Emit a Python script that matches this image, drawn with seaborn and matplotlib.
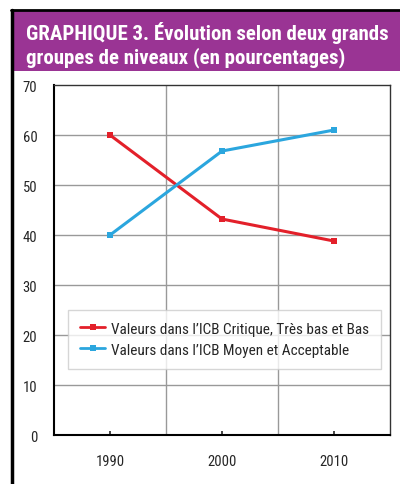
import matplotlib
matplotlib.use("Agg")
import matplotlib.pyplot as plt
import seaborn as sns
import pandas as pd
from matplotlib.patches import Rectangle
from matplotlib.lines import Line2D

years = ["1990", "2000", "2010"]
low_levels = [60, 43.2, 38.8]
mid_levels = [40, 56.8, 61]
series_names = [
    "Valeurs dans l\u2019ICB Critique, Très bas et Bas",
    "Valeurs dans l\u2019ICB Moyen et Acceptable",
]
title_lines = [
    "GRAPHIQUE 3. Évolution selon deux grands",
    "groupes de niveaux (en pourcentages)",
]

sns.set_style("white")
plt.rcParams["font.family"] = ["Roboto Condensed", "Archivo Narrow", "PT Sans Narrow", "DejaVu Sans"]

df = pd.DataFrame({
    "year": years * 2,
    "value": low_levels + mid_levels,
    "serie": [series_names[0]] * 3 + [series_names[1]] * 3,
})

fig = plt.figure(figsize=(4, 4.85), dpi=100)
ax = fig.add_axes([0.135, 0.101, 0.84, 0.7216])

palette = {series_names[0]: "#e3202a", series_names[1]: "#2ba6de"}
sns.lineplot(data=df, x="year", y="value", hue="serie", palette=palette,
             marker="s", markersize=5, markeredgewidth=0, linewidth=2.2,
             ax=ax, legend=False, sort=False)

ax.set_xlim(-0.5, 2.5)
ax.set_ylim(0, 70)
ax.set_yticks(range(0, 71, 10))
ax.set_xlabel("")
ax.set_ylabel("")
for v in [0.5, 1.5]:
    ax.axvline(v, color="#999999", lw=1, zorder=0)
for v in range(10, 70, 10):
    ax.axhline(v, color="#999999", lw=1, zorder=0)
for s in ["top", "right"]:
    ax.spines[s].set_color("#333333")
    ax.spines[s].set_linewidth(1)
for s in ["left", "bottom"]:
    ax.spines[s].set_color("black")
    ax.spines[s].set_linewidth(1.5)
ax.tick_params(axis="x", direction="in", length=3, width=1.2, pad=14,
               labelsize=10.5, bottom=True)
ax.tick_params(axis="y", length=0, pad=12, labelsize=10.5)

handles = [Line2D([], [], color=palette[n], lw=2, marker="s", markersize=4,
                  markeredgewidth=0) for n in series_names]
leg = ax.legend(handles, series_names, loc="lower left",
                bbox_to_anchor=(0.042, 0.189), borderaxespad=0, fontsize=11,
                frameon=True, fancybox=False, edgecolor="#cccccc",
                handlelength=1.6, handletextpad=0.4, borderpad=0.8,
                labelspacing=0.45)
leg.get_frame().set_linewidth(1)

# header band and frame lines
fig.patches.append(Rectangle((0.03, 0.8515), 0.97, 0.1237, transform=fig.transFigure,
                             facecolor="#9a3494", edgecolor="none", zorder=0))
fig.add_artist(Line2D([0.028, 1.0], [0.978, 0.978], transform=fig.transFigure,
                      color="black", lw=2))
fig.add_artist(Line2D([0.029, 0.029], [0.0, 0.978], transform=fig.transFigure,
                      color="black", lw=2.5))
fig.text(0.065, 0.932, title_lines[0], color="white", fontsize=15,
         fontweight="bold", va="center", ha="left")
fig.text(0.065, 0.881, title_lines[1], color="white", fontsize=15,
         fontweight="bold", va="center", ha="left")

fig.savefig("out.png", dpi=100)
